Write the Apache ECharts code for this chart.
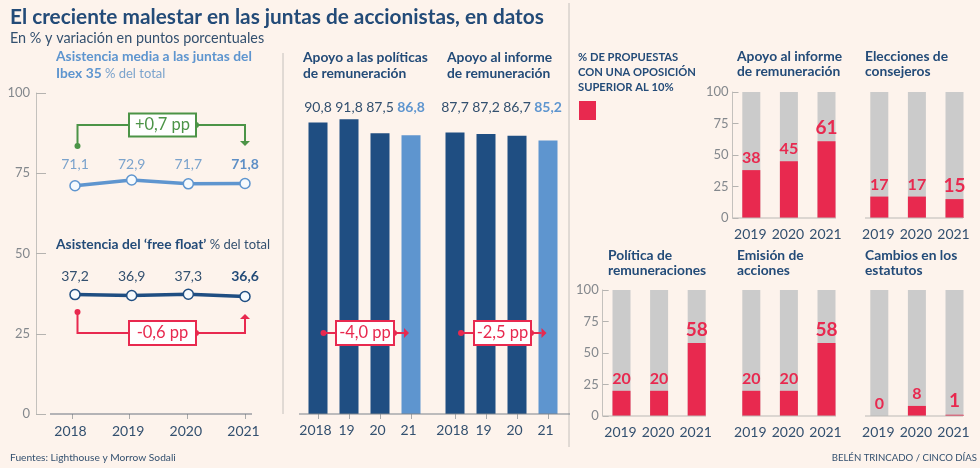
<!DOCTYPE html>
<html>
<head>
<meta charset="utf-8">
<style>html,body{margin:0;padding:0;background:#fdf3ec}#chart{width:980px;height:468px}</style>
<script src="https://cdn.jsdelivr.net/npm/echarts@6/dist/echarts.min.js"></script>
</head>
<body>
<div id="chart"></div>
<script>
// Datos
var years4 = ['2018', '2019', '2020', '2021'];
var yearsShort = ['2018', '19', '20', '21'];
var years3 = ['2019', '2020', '2021'];
var attendance = [71.1, 72.9, 71.7, 71.8];
var freeFloat = [37.2, 36.9, 37.3, 36.6];
var supportPolicy = [90.8, 91.8, 87.5, 86.8];
var supportReport = [87.7, 87.2, 86.7, 85.2];
var oppReport = [38, 45, 61];
var oppDirectors = [17, 17, 15];
var oppPolicy = [20, 20, 58];
var oppShares = [20, 20, 58];
var oppBylaws = [0, 8, 1];

var FONT = 'Lato';
var NAVY = '#234b78', INK = '#33506f', BLUE = '#5e95cf', DARK = '#1f4e82';
var RED = '#e8294f', GREEN = '#4c9447', GREY = '#cbcbcb', AXIS = '#a9a9a9';

function comma(v) { return String(v.toFixed(1)).replace('.', ','); }

var grids = [], xAxes = [], yAxes = [], series = [], graphics = [];

function addGrid(left, width, top, height) {
    grids.push({ left: left, width: width, top: top, height: height, containLabel: false });
    return grids.length - 1;
}

function txt(x, y, text, size, color, weight, align) {
    graphics.push({
        type: 'text', x: x, y: y, z: 50,
        style: { text: text, fontFamily: FONT, fontSize: size, fill: color, fontWeight: weight || 'normal',
                 align: align || 'left', verticalAlign: 'middle' }
    });
}

function rich(x, y, boldText, lightText, boldColor, lightColor) {
    graphics.push({
        type: 'text', x: x, y: y, z: 50,
        style: {
            text: '{a|' + boldText + '}{b|' + lightText + '}', verticalAlign: 'middle',
            rich: {
                a: { fontFamily: FONT, fontSize: 13.8, fontWeight: 'bold', fill: boldColor, color: boldColor },
                b: { fontFamily: FONT, fontSize: 13, fill: lightColor, color: lightColor }
            }
        }
    });
}

function hline(x1, x2, y, color, width) {
    graphics.push({ type: 'line', z: 3, shape: { x1: x1, y1: y, x2: x2, y2: y }, style: { stroke: color, lineWidth: width || 1 } });
}

function vline(x, y1, y2, color) {
    graphics.push({ type: 'line', z: 1, shape: { x1: x, y1: y1, x2: x, y2: y2 }, style: { stroke: color, lineWidth: 1 } });
}

// caja con el texto de la variacion
function ppBox(x, y, w, h, text, color) {
    graphics.push({ type: 'rect', z: 40, shape: { x: x, y: y, width: w, height: h }, style: { fill: '#fff', stroke: color, lineWidth: 2 } });
    graphics.push({ type: 'text', z: 41, x: x + w / 2, y: y + h / 2, style: { text: text, fontFamily: FONT, fontSize: 16.5, fill: color, align: 'center', verticalAlign: 'middle' } });
}

function flow(points, color, tip) {
    graphics.push({ type: 'polyline', z: 30, shape: { points: points }, style: { stroke: color, fill: null, lineWidth: 2 } });
    var a = points[0], b = points[points.length - 1], prev = points[points.length - 2];
    graphics.push({ type: 'circle', z: 31, shape: { cx: a[0], cy: a[1], r: 3 }, style: { fill: color } });
    var dx = Math.sign(b[0] - prev[0]), dy = Math.sign(b[1] - prev[1]);
    graphics.push({
        type: 'polygon', z: 31,
        shape: { points: [[b[0] + dx * tip, b[1] + dy * tip], [b[0] + dy * 5, b[1] + dx * 5], [b[0] - dy * 5, b[1] - dx * 5]] },
        style: { fill: color }
    });
}

//======================================================================================================================
// Asistencia a las juntas
//======================================================================================================================

var lineGrid = addGrid(75, 170, 93, 321);
xAxes.push({ gridIndex: lineGrid, type: 'category', boundaryGap: false, data: years4, show: false });
yAxes.push({
    gridIndex: lineGrid, type: 'value', min: 0, max: 100, interval: 25, offset: 39,
    axisLine: { show: true, lineStyle: { color: '#c4c1bd' } },
    axisTick: { show: true, inside: true, length: 10, lineStyle: { color: '#b5b3b0' } },
    axisLabel: { fontFamily: FONT, fontSize: 13, color: '#84888d', margin: 6 },
    splitLine: { show: false }
});

// las etiquetas van todas a la misma altura
function attendanceSeries(name, values, color, labelColor, lastColor, labelY) {
    series.push({
        name: name, type: 'line', xAxisIndex: lineGrid, yAxisIndex: lineGrid, data: values, z: 5,
        symbol: 'circle', symbolSize: 10,
        lineStyle: { color: color, width: 3.5 },
        itemStyle: { color: '#f6fafd', borderColor: color, borderWidth: 1.5 },
        labelLayout: { y: labelY, align: 'center', verticalAlign: 'middle' },
        label: {
            show: true, position: 'top', fontFamily: FONT, fontSize: 14, color: labelColor,
            formatter: function(p) {
                var s = comma(p.value);
                return p.dataIndex === values.length - 1 ? '{last|' + s + '}' : s;
            },
            rich: { last: { fontFamily: FONT, fontSize: 14, fontWeight: 'bold', color: lastColor } }
        }
    });
}
attendanceSeries('Asistencia media', attendance, BLUE, '#7ba3cc', '#5e8fc6', 164);
attendanceSeries('Free float', freeFloat, DARK, INK, NAVY, 276);

// eje de anos, desplazado respecto a los puntos como en el original
var yearGrid = addGrid(72, 173, 93, 321);
xAxes.push({
    gridIndex: yearGrid, type: 'category', boundaryGap: false, data: years4,
    axisLine: { show: false },
    axisTick: { show: true, length: 5, lineStyle: { color: AXIS } },
    axisLabel: { fontFamily: FONT, fontSize: 14, color: INK, margin: 10, interval: 0, padding: [0, 3, 0, 0] }
});
yAxes.push({ gridIndex: yearGrid, type: 'value', min: 0, max: 100, show: false });
hline(50, 252, 414, '#6d7480', 1.2);

flow([[77.5, 146], [77.5, 125], [128, 125]], GREEN, 0);
flow([[196, 125], [245, 125], [245, 141]], GREEN, 5);
ppBox(129, 113.5, 67, 23, '+0,7 pp', GREEN);
flow([[77.5, 312], [77.5, 333], [128, 333]], RED, 0);
flow([[196, 333], [245, 333], [245, 319]], RED, 5);
ppBox(129, 321, 67, 24, '-0,6 pp', RED);

//======================================================================================================================
// Apoyo a remuneraciones
//======================================================================================================================

function supportPanel(left, values) {
    var g = addGrid(left, 124, 93, 321);
    var last = values.length - 1;
    xAxes.push({
        gridIndex: g, type: 'category', data: yearsShort,
        axisLine: { show: false },
        axisTick: { show: true, alignWithLabel: true, length: 5, lineStyle: { color: AXIS } },
        axisLabel: { fontFamily: FONT, fontSize: 14, color: INK, margin: 9, interval: 0, padding: [0, 5, 0, 0] }
    });
    var top = xAxes.length;
    xAxes.push({
        gridIndex: g, type: 'category', position: 'top', offset: -21, data: values.map(comma),
        axisLine: { show: false }, axisTick: { show: false },
        axisLabel: {
            fontFamily: FONT, fontSize: 14, color: INK, margin: 0, interval: 0,
            formatter: function(v, i) { return i === last ? '{last|' + v + '}' : v; },
            rich: { last: { fontFamily: FONT, fontSize: 14, fontWeight: 'bold', color: BLUE } }
        }
    });
    yAxes.push({ gridIndex: g, type: 'value', min: 0, max: 100, show: false });
    series.push({
        type: 'bar', xAxisIndex: top - 1, yAxisIndex: yAxes.length - 1, barWidth: 19,
        data: values.map(function(v, i) { return { value: v, itemStyle: { color: i === last ? BLUE : DARK } }; })
    });
}
supportPanel(302.5, supportPolicy);
supportPanel(439.5, supportReport);
hline(299, 570, 414, '#7d838b', 1.2);

flow([[323.5, 333], [336, 333]], RED, 0);
flow([[394, 333], [404, 333]], RED, 5);
ppBox(336, 321, 58, 24, '-4,0 pp', RED);
flow([[461, 333], [474, 333]], RED, 0);
flow([[531, 333], [541.5, 333]], RED, 5);
ppBox(474, 321, 57, 24, '-2,5 pp', RED);

//======================================================================================================================
// Propuestas con oposicion superior al 10%
//======================================================================================================================

function oppositionPanel(left, top, values, showY, axisFrom, axisTo) {
    var g = addGrid(left, 112.8, top, 126);
    xAxes.push({
        gridIndex: g, type: 'category', data: years3,
        axisLine: { show: false }, axisTick: { show: false },
        axisLabel: { fontFamily: FONT, fontSize: 14, color: INK, margin: 9, interval: 0, padding: [0, 2, 0, 0] }
    });
    yAxes.push({
        gridIndex: g, type: 'value', min: 0, max: 100, interval: 25, show: showY,
        axisLine: { show: true, lineStyle: { color: '#c4c1bd' } },
        axisTick: { show: true, inside: true, length: 6, lineStyle: { color: '#b5b3b0' } },
        axisLabel: { fontFamily: FONT, fontSize: 13, color: '#84888d', margin: 4 },
        splitLine: { show: false }
    });
    series.push({
        type: 'bar', xAxisIndex: xAxes.length - 1, yAxisIndex: yAxes.length - 1, barWidth: 18,
        data: values, itemStyle: { color: RED },
        showBackground: true, backgroundStyle: { color: GREY },
        label: {
            show: true, position: 'top', distance: 4, fontFamily: FONT, fontWeight: 'bold', fontSize: 16, color: RED,
            formatter: function(p) { return p.dataIndex === 2 ? '{big|' + p.value + '}' : String(p.value); },
            rich: { big: { fontFamily: FONT, fontWeight: 'bold', fontSize: 19, color: RED } }
        }
    });
    hline(axisFrom, axisTo, top + 126, '#bcb9b5', 1.2);
}
oppositionPanel(732.5, 92, oppReport, true, 733, 836);
oppositionPanel(860.5, 92, oppDirectors, false, 865, 963);
oppositionPanel(602.7, 290, oppPolicy, true, 603, 706);
oppositionPanel(732.5, 290, oppShares, false, 742, 836);
oppositionPanel(860.5, 290, oppBylaws, false, 865, 963);

//======================================================================================================================
// Textos
//======================================================================================================================

txt(10, 17, 'El creciente malestar en las juntas de accionistas, en datos', 20.8, NAVY, 'bold');
txt(10, 38, 'En % y variación en puntos porcentuales', 14.4, INK);
txt(56, 57, 'Asistencia media a las juntas del', 13.8, BLUE, 'bold');
rich(56, 74, 'Ibex 35', ' % del total', BLUE, '#7ba3cc');
rich(56, 245, 'Asistencia del ‘free float’', ' % del total', NAVY, INK);

txt(303, 58, 'Apoyo a las políticas', 13.8, NAVY, 'bold');
txt(303, 74, 'de remuneración', 13.8, NAVY, 'bold');
txt(447, 58, 'Apoyo al informe', 13.8, NAVY, 'bold');
txt(447, 74, 'de remuneración', 13.8, NAVY, 'bold');

txt(578, 57, '% DE PROPUESTAS', 11.2, NAVY, 'bold');
txt(578, 72, 'CON UNA OPOSICIÓN', 11.2, NAVY, 'bold');
txt(578, 87, 'SUPERIOR AL 10%', 11.2, NAVY, 'bold');
graphics.push({ type: 'rect', shape: { x: 579, y: 101, width: 17, height: 19 }, style: { fill: RED } });

txt(737, 57, 'Apoyo al informe', 13.8, NAVY, 'bold');
txt(737, 72, 'de remuneración', 13.8, NAVY, 'bold');
txt(865, 57, 'Elecciones de', 13.8, NAVY, 'bold');
txt(865, 72, 'consejeros', 13.8, NAVY, 'bold');
txt(608, 256, 'Política de', 13.8, NAVY, 'bold');
txt(608, 271, 'remuneraciones', 13.8, NAVY, 'bold');
txt(737, 256, 'Emisión de', 13.8, NAVY, 'bold');
txt(737, 271, 'acciones', 13.8, NAVY, 'bold');
txt(865, 256, 'Cambios en los', 13.8, NAVY, 'bold');
txt(865, 271, 'estatutos', 13.8, NAVY, 'bold');

txt(10, 458, 'Fuentes: Lighthouse y Morrow Sodali', 10.2, INK);
txt(977, 458, 'BELÉN TRINCADO / CINCO DÍAS', 9.6, INK, 'normal', 'right');

vline(283, 53, 414, '#c4c0bc');
vline(569, 3, 447, '#c4c0bc');

echarts.init(document.getElementById('chart')).setOption({
    animation: false,
    backgroundColor: '#fdf3ec',
    textStyle: { fontFamily: FONT },
    grid: grids,
    xAxis: xAxes,
    yAxis: yAxes,
    series: series,
    graphic: { elements: graphics }
});
</script>
</body>
</html>
